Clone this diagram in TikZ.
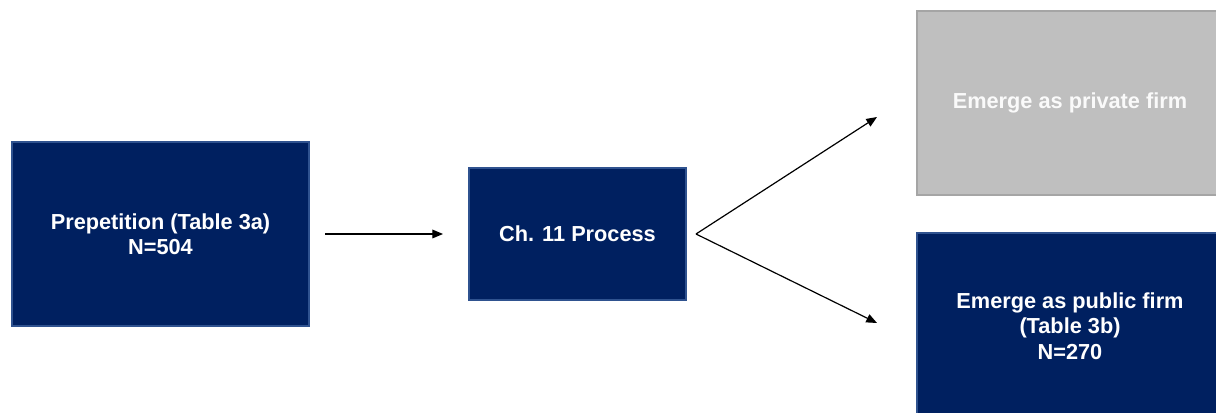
\documentclass[tikz,border=0pt]{standalone}
\usepackage{fontspec}
\setmainfont{Liberation Sans}
\usetikzlibrary{arrows.meta}
\definecolor{navy}{HTML}{002060}
\definecolor{navyline}{HTML}{2F528F}
\definecolor{greyfill}{HTML}{BFBFBF}
\definecolor{greyline}{HTML}{A5A5A5}
\tikzset{
 box/.style={draw=navyline,fill=navy,line width=1.5pt,text=white,align=center,inner sep=0pt,
  font=\fontsize{16.3}{19}\selectfont\bfseries},
 privbox/.style={box,draw=greyline,fill=greyfill,text=white!98!black},
 flow/.style={-{Triangle[length=8pt,width=6.5pt]},line width=0.9pt}
}
\begin{document}
\begin{tikzpicture}[x=0.75pt,y=-0.75pt]
 \useasboundingbox (0,0) rectangle (1216,413);
 \clip (0,0) rectangle (1216,413);
 \node[box,minimum width=222.75pt,minimum height=138pt] (pre) at (160.5,234) {Prepetition (Table 3a)\\N=504};
 \node[box,minimum width=162.75pt,minimum height=99pt] (ch11) at (577.5,234) {Ch. 11 Process};
 \node[privbox,minimum width=229.5pt,minimum height=138pt] (priv) at (1070,103) {Emerge as private firm};
 \node[box,minimum width=229.5pt,minimum height=139.5pt] (pub) at (1070,326) {Emerge as public firm\\(Table 3b)\\N=270};
 \draw[flow,shorten <=11.25pt,shorten >=18.75pt] (pre) -- (ch11);
 \coordinate (fork) at ([xshift=6.75pt]ch11.east);
 \coordinate (privtip) at (877,117);
 \coordinate (pubtip) at (877,323);
 \draw[flow] (fork) -- (privtip);
 \draw[flow] (fork) -- (pubtip);
\end{tikzpicture}
\end{document}
